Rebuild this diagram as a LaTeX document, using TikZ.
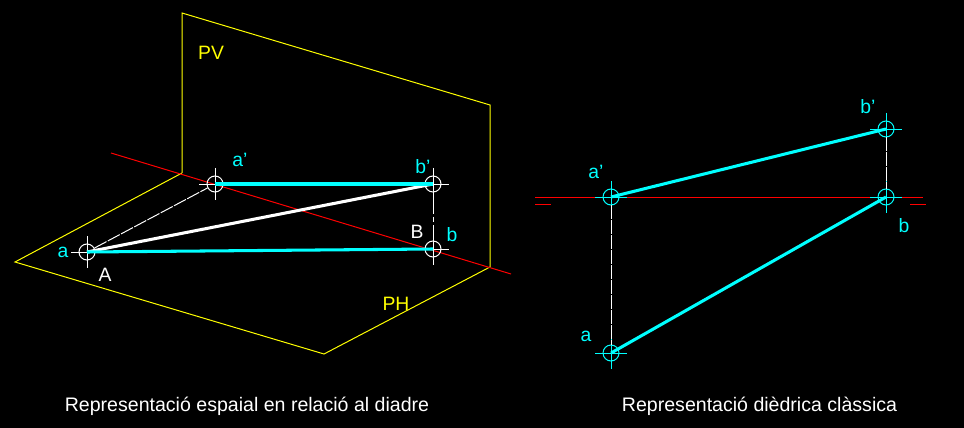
\documentclass[tikz,border=0pt]{standalone}
\usepackage{fontspec}
\setmainfont{Liberation Sans}
\definecolor{cian}{RGB}{0,255,255}
\definecolor{groc}{RGB}{255,255,0}
\definecolor{vermell}{RGB}{255,0,0}
\tikzset{
  punt/.style={circle,draw,inner sep=0pt,minimum size=.48cm},
  etiqueta/.style={inner sep=0pt,font=\fontsize{16.5}{18}\selectfont},
  peu/.style={inner sep=0pt,white,font=\fontsize{16.7}{18}\selectfont},
  tros/.style={dash pattern=on 11.6pt off 1.2pt},
  trosb/.style={dash pattern=on 18pt off 2.5pt on 5pt off 2.5pt}
}
\begin{document}
\begin{tikzpicture}[x=.03cm,y=-.03cm,line width=.85pt]
        \fill[black] (0, 0) rectangle (964, 428);
        \useasboundingbox (0, 0) rectangle (964, 428);
        % plans
        \coordinate (pv1) at (182, 13);
        \coordinate (pv2) at (490, 105);
        \coordinate (pv3) at (490, 267);
        \coordinate (pv4) at (182, 173);
        \coordinate (ph1) at (15, 262);
        \coordinate (ph2) at (324, 354);
        \draw[groc] (pv4) -- (pv1) -- (pv2) -- (pv3);
        \draw[groc] (pv4) -- (ph1) -- (ph2) -- (pv3);
        \coordinate (lt1) at (111, 153);
        \coordinate (lt2) at (511, 274);
        \draw[vermell] (lt1) -- (lt2);
        % punts de l'esquerra
        \node[punt, white] (a) at (87, 252) {};
        \node[punt, white] (ap) at (215, 184) {};
        \node[punt, white] (bp) at (433, 184) {};
        \node[punt, white] (b) at (433, 249) {};
        \foreach \p in {a, ap, bp, b}{
          \draw[white] (\p.center) +(-16, 0) -- +(16, 0);
          \draw[white] (\p.center) +(0, -16) -- +(0, 16);
        };
        \draw[white, tros] (a) -- (ap);
        \draw[white, trosb] (bp) -- (b);
        \draw[white, line width=2.6pt] (a.center) -- (bp.center);
        \draw[cian, line width=2.6pt] (a.center) -- (b.center);
        \draw[cian, line width=2.6pt] (ap.center) -- (bp.center);
        % diedre
        \coordinate (lt3) at (535, 197);
        \coordinate (lt4) at (923, 197);
        \draw[vermell] (lt3) -- (lt4);
        \coordinate (m1) at (535, 204);
        \coordinate (m2) at (551, 204);
        \coordinate (m3) at (910, 204);
        \coordinate (m4) at (926, 204);
        \draw[vermell] (m1) -- (m2);
        \draw[vermell] (m3) -- (m4);
        \node[punt, cian] (c) at (611, 353) {};
        \node[punt, cian] (cp) at (611, 197) {};
        \node[punt, cian] (dp) at (886, 129) {};
        \node[punt, cian] (d) at (886, 197) {};
        \foreach \p in {c, cp, dp, d}{
          \draw[cian] (\p.center) +(-16, 0) -- +(16, 0);
          \draw[cian] (\p.center) +(0, -16) -- +(0, 16);
        };
        \draw[white, tros] (cp) -- (c);
        \draw[white, tros] (dp) -- (d);
        \draw[cian, line width=2.6pt] (cp.center) -- (dp.center);
        \draw[cian, line width=2.6pt] (c.center) -- (d.center);
        % textos
        \node[etiqueta, groc] (tpv) at (211, 53) {PV};
        \node[etiqueta, groc] (tph) at (396, 304) {PH};
        \node[etiqueta, white] (ta) at (105, 275) {A};
        \node[etiqueta, white] (tb) at (417, 232) {B};
        \node[etiqueta, cian] (la) at (63, 252) {a};
        \node[etiqueta, cian] (lap) at (240, 160) {a'};
        \node[etiqueta, cian] (lbp) at (423, 167) {b'};
        \node[etiqueta, cian] (lb) at (452, 235) {b};
        \node[etiqueta, cian] (lc) at (586, 336) {a};
        \node[etiqueta, cian] (lcp) at (596, 172) {a'};
        \node[etiqueta, cian] (ldp) at (868, 107) {b'};
        \node[etiqueta, cian] (ld) at (904, 226) {b};
        \node[peu] (t1) at (247, 406.5) {Representació espaial en relació al diadre};
        \node[peu] (t2) at (759.5, 406.5) {Representació dièdrica clàssica};
\end{tikzpicture}
\end{document}
